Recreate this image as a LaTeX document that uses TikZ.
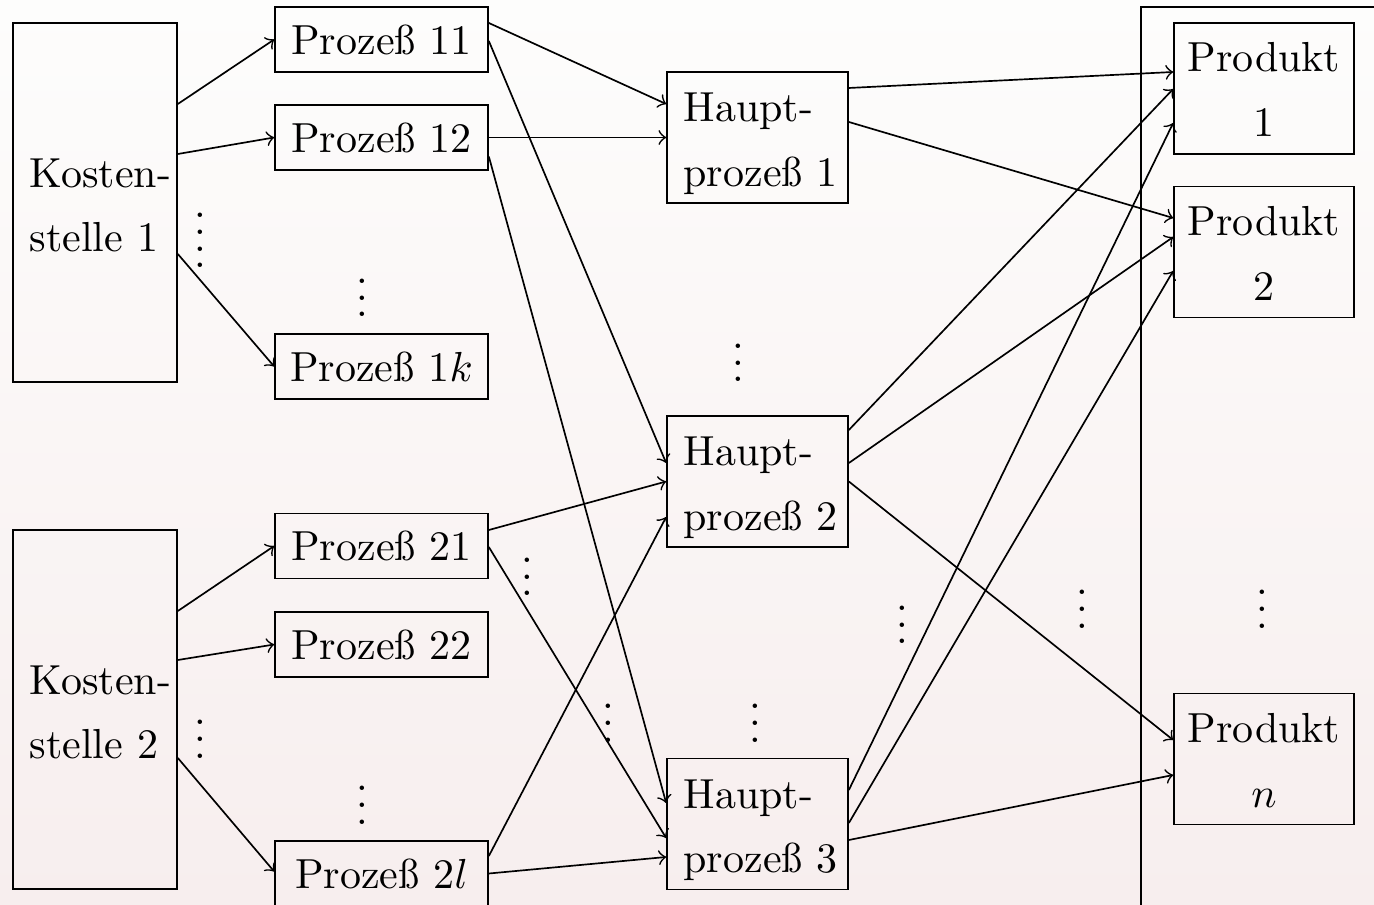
\documentclass[tikz,border=0pt]{standalone}
\usepackage{fontspec}
\usetikzlibrary{calc}

\definecolor{bgtop}{RGB}{253,253,252}
\definecolor{bgbot}{RGB}{247,238,238}

% four stacked dots, spaced like \vdots
\newcommand{\fourdots}{\vbox{\baselineskip4pt\lineskiplimit0pt\hbox{.}\hbox{.}\hbox{.}\hbox{.}}}
% arrow from the east side of one box to the west side of another, with vertical offsets
\newcommand{\flow}[4]{\draw[link] ($(#1.east)+(0,#2)$) -- ($(#3.west)+(0,#4)$);}
% left indent of the two-line labels
\newcommand{\ind}{\hspace*{3.95pt}}

\tikzset{
  link/.style={->, line width=0.4pt},
  costbox/.style={draw, line width=0.4pt, align=left, text width=39.05pt,
    inner sep=0pt, minimum height=85.48pt},
  procbox/.style={draw, line width=0.4pt, inner sep=0pt,
    minimum width=50.71pt, minimum height=15.48pt},
  mainbox/.style={draw, line width=0.4pt, align=left, text width=43.1pt,
    inner sep=0pt, minimum height=31.19pt},
  prodbox/.style={draw, line width=0.4pt, align=center, inner sep=0pt,
    minimum width=42.86pt, minimum height=31.19pt},
  dots/.style={anchor=base, inner sep=0pt}
}

\begin{document}
\begin{tikzpicture}[x=0.238095pt, y=-0.238095pt]
\useasboundingbox (0,0) rectangle (1374,905);
\clip (0,0) rectangle (1374,905);
\shade[top color=bgtop, bottom color=bgbot] (0,0) rectangle (1374,905);

% frame around the products
\draw[line width=0.4pt] (1141.3,960) -- (1141.3,6.7) -- (1450,6.7);

% cost centres
\node[costbox] (k1) at (95,202.5) {\ind\rule{0pt}{8.3pt}Kosten-\\[3.2pt]\ind stelle 1};
\node[costbox] (k2) at (95,709.5) {\ind\rule{0pt}{8.3pt}Kosten-\\[3.2pt]\ind stelle 2};

% processes
\node[procbox] (p11) at (381.5,39.5)  {Prozeß 11};
\node[procbox] (p12) at (381.5,137.5) {Prozeß 12};
\node[procbox] (p1k) at (381.5,366.5) {Prozeß 1$k$};
\node[procbox] (p21) at (381.5,546)   {Prozeß 21};
\node[procbox] (p22) at (381.5,644.5) {Prozeß 22};
\node[procbox] (p2l) at (381.5,873.5) {Prozeß 2$l$};

% main processes
\node[mainbox] (h1) at (757.5,137.5) {\ind\rule{0pt}{9.8pt}Haupt-\\[3.4pt]\ind prozeß 1};
\node[mainbox] (h2) at (757.5,481.5) {\ind\rule{0pt}{9.8pt}Haupt-\\[3.4pt]\ind prozeß 2};
\node[mainbox] (h3) at (757.5,824)   {\ind\rule{0pt}{9.8pt}Haupt-\\[3.4pt]\ind prozeß 3};

% products
\node[prodbox] (r1) at (1264,88.5) {\rule{0pt}{7.5pt}Produkt\\[3.5pt]1};
\node[prodbox] (r2) at (1264,252)  {\rule{0pt}{7.5pt}Produkt\\[3.5pt]2};
\node[prodbox] (rn) at (1264,759)  {\rule{0pt}{7.5pt}Produkt\\[3.5pt]$n$};

% omitted elements
\node[dots] (d1)  at (200,268)   {\fourdots};
\node[dots] (d2)  at (200,758)   {$\vdots$};
\node[dots] (d3)  at (362,317)   {$\vdots$};
\node[dots] (d4)  at (362,824)   {$\vdots$};
\node[dots] (d5)  at (738,382)   {$\vdots$};
\node[dots] (d6)  at (527,596)   {$\vdots$};
\node[dots] (d7)  at (608,742)   {$\vdots$};
\node[dots] (d8)  at (755,742)   {$\vdots$};
\node[dots] (d9)  at (902,644)   {$\vdots$};
\node[dots] (d10) at (1082,628)  {$\vdots$};
\node[dots] (d11) at (1262,628)  {$\vdots$};

% cost centres -> processes
\flow{k1}{-98.5}{p11}{0}
\flow{k1}{-48.5}{p12}{0}
\flow{k1}{51.5}{p1k}{0}
\flow{k2}{-98.5}{p21}{0}
\flow{k2}{-49.5}{p22}{0}
\flow{k2}{48.5}{p2l}{-2}

% processes -> main processes
\flow{p11}{-16.5}{h1}{-33.5}
\flow{p11}{1.5}{h2}{-18.5}
\flow{p12}{0}{h1}{0}
\flow{p12}{19}{h3}{-21}
\flow{p21}{-16}{h2}{0}
\flow{p21}{1}{h3}{14}
\flow{p2l}{-17.5}{h2}{35.5}
\flow{p2l}{0}{h3}{33}

% main processes -> products
\flow{h1}{-49.5}{r1}{-16.5}
\flow{h1}{-15.5}{r2}{-34}
\flow{h2}{-51.5}{r1}{0.5}
\flow{h2}{-18.5}{r2}{-15}
\flow{h2}{0}{rn}{-19}
\flow{h3}{-34}{r1}{34.5}
\flow{h3}{-1}{r2}{19}
\flow{h3}{16}{rn}{16}
\end{tikzpicture}
\end{document}
